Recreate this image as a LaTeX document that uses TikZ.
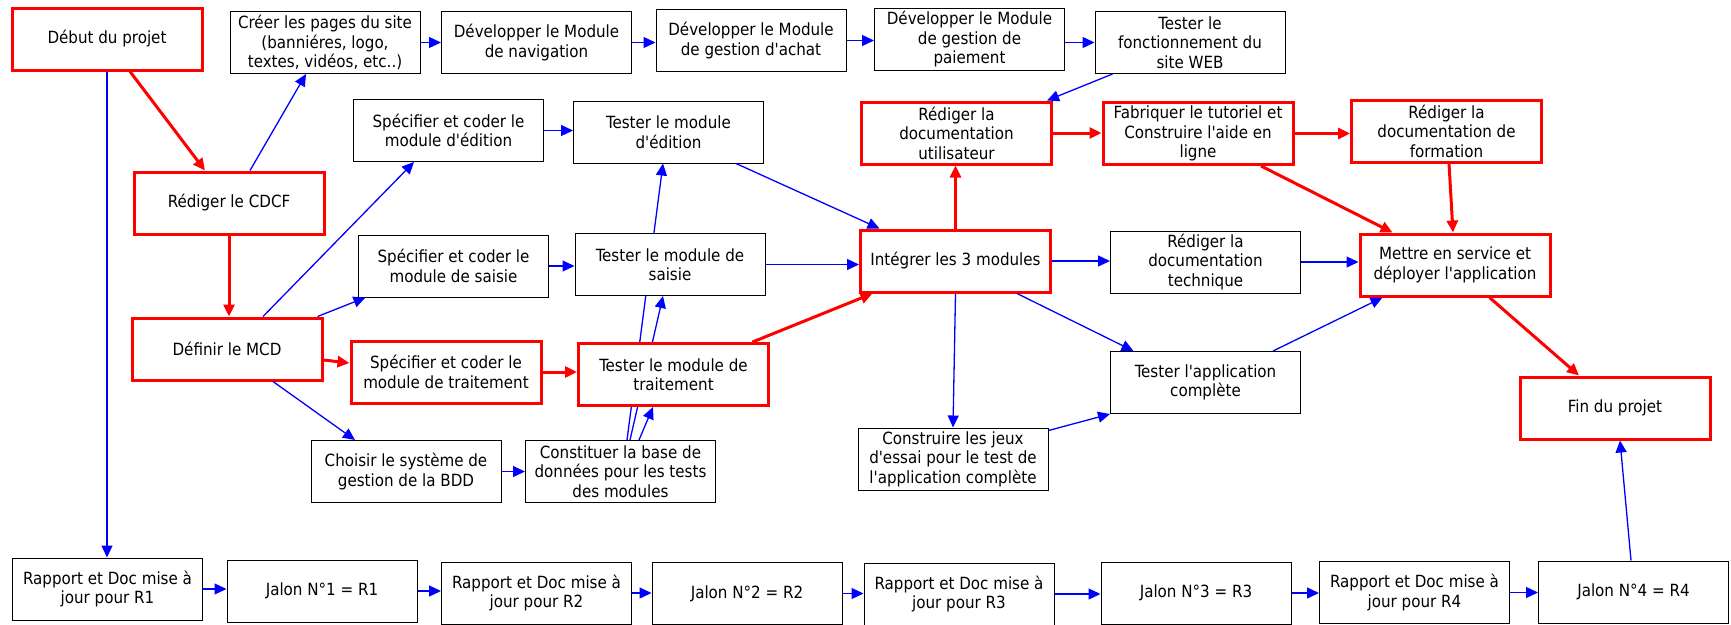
\documentclass[tikz,border=0pt]{standalone}
\usepackage{fontspec}
\newfontfamily\boxfont{DejaVu Sans Condensed}[Ligatures=TeXOff]
\usetikzlibrary{arrows.meta,calc}
\pgfdeclarelayer{behind}
\pgfsetlayers{behind,main}

\tikzset{
  task/.style={draw=black, line width=1pt, fill=white, minimum width=190pt,
    minimum height=62pt, inner sep=2pt, align=center,
    font=\boxfont\fontsize{16.8}{19.5}\selectfont},
  crit/.style={task, draw=red, line width=3pt},
  flow/.style={draw=blue, line width=1.3pt, -{Triangle[length=12pt,width=11pt]}},
  critflow/.style={draw=red, line width=3pt, -{Triangle[length=12pt,width=11pt]}},
}

\begin{document}
\begin{tikzpicture}[x=1pt,y=-1pt]
\useasboundingbox (0,0) rectangle (1731,624);

% ---- tasks ----
\node[crit] (deb)   at (107,39)    {Début du projet};
\node[task] (cree)  at (325,42.5)  {Créer les pages du site\\(banniéres, logo,\\textes, vidéos, etc..)};
\node[task] (nav)   at (536.5,42.5){Développer le Module\\de navigation};
\node[task] (achat) at (751,40.5)  {Développer le Module\\de gestion d'achat};
\node[task] (paie)  at (969.5,39.5){Développer le Module\\de gestion de\\paiement};
\node[task] (tfonc) at (1190,42.5) {Tester le\\fonctionnement du\\site WEB};

\node[task] (sped)  at (448.5,130.5){Spécifier et coder le\\module d'édition};
\node[task] (ted)   at (668.5,132) {Tester le module\\d'édition};
\node[crit] (rdu)   at (956.5,133) {Rédiger la\\documentation\\utilisateur};
\node[crit] (fab)   at (1198,133.5){Fabriquer le tutoriel et\\Construire l'aide en\\ligne};
\node[crit] (rdf)   at (1446.5,131){Rédiger la\\documentation de\\formation};

\node[crit] (cdcf)  at (229,203)   {Rédiger le CDCF};
\node[task] (spsa)  at (453.5,266) {Spécifier et coder le\\module de saisie};
\node[task] (tsa)   at (670,264.5) {Tester le module de\\saisie};
\node[crit] (integ) at (955.5,261) {Intégrer les 3 modules};
\node[task] (rdt)   at (1205.5,262){Rédiger la\\documentation\\technique};
\node[crit] (mes)   at (1455,265)  {Mettre en service et\\déployer l'application};

\node[crit] (mcd)   at (227,349)   {Définir le MCD};
\node[crit] (sptr)  at (446,372)   {Spécifier et coder le\\module de traitement};
\node[crit] (ttr)   at (673.5,374.5){Tester le module de\\traitement};
\node[task] (tapp)  at (1205.5,382.5){Tester l'application\\complète};
\node[crit] (fin)   at (1615,408)  {Fin du projet};

\node[task] (choi)  at (406,471.5) {Choisir le système de\\gestion de la BDD};
\node[task] (const) at (620.5,471.5){Constituer la base de\\données pour les tests\\des modules};
\node[task] (jeux)  at (953,459)   {Construire les jeux\\d'essai pour le test de\\l'application complète};

\node[task] (r1) at (107.5,589) {Rapport et Doc mise à\\jour pour R1};
\node[task] (j1) at (322,591)   {Jalon N°1 = R1};
\node[task] (r2) at (536.5,593) {Rapport et Doc mise à\\jour pour R2};
\node[task] (j2) at (747,593.5) {Jalon N°2 = R2};
\node[task] (r3) at (959,594)   {Rapport et Doc mise à\\jour pour R3};
\node[task] (j3) at (1196,593)  {Jalon N°3 = R3};
\node[task] (r4) at (1414.5,592.5){Rapport et Doc mise à\\jour pour R4};
\node[task] (j4) at (1633.5,592){Jalon N°4 = R4};

% ---- links passing under the test boxes ----
\begin{pgfonlayer}{behind}
\draw[flow] ([xshift=6.5pt]const.north) -- ([xshift=-5.5pt]ted.south);
\draw[flow] ([xshift=9.5pt]const.north) -- ([xshift=-7pt]tsa.south);
\end{pgfonlayer}

% ---- ordinary links ----
\draw[flow] (deb.south) -- (deb.south |- r1.north);
\draw[flow] ([xshift=21pt]cdcf.north) -- ([xshift=-19pt]cree.south);
\draw[flow] (cree.east) -- (cree.east -| nav.west);
\draw[flow] (nav.east) -- (nav.east -| achat.west);
\draw[flow] (achat.east) -- (achat.east -| paie.west);
\draw[flow] (tfonc.west -| paie.east) -- (tfonc.west);
\draw[flow] ([xshift=18pt]tfonc.south west) -- ([xshift=-6pt]rdu.north east);
\draw[flow] ([xshift=36pt]mcd.north) -- ([xshift=-34.5pt]sped.south);
\draw[flow] ([xshift=-6pt]mcd.north east) -- ([xshift=7.5pt]spsa.south west);
\draw[flow] (sped.east) -- (sped.east -| ted.west);
\draw[flow] (spsa.east) -- (spsa.east -| tsa.west);
\draw[flow] ([xshift=67.5pt]ted.south) -- ([xshift=20.5pt]integ.north west);
\draw[flow] (tsa.east) -- (tsa.east -| integ.west);
\draw[flow] ([xshift=46pt]mcd.south) -- ([xshift=-51pt]choi.north);
\draw[flow] (choi.east) -- (choi.east -| const.west);
\draw[flow] ([xshift=18.5pt]const.north) -- ([xshift=-20.5pt]ttr.south);
\draw[flow] (integ.south) -- (jeux.north);
\draw[flow] ([xshift=61.5pt]integ.south) -- ([xshift=23.5pt]tapp.north west);
\draw[flow] ([yshift=-3pt]jeux.north east) -- (tapp.south west);
\draw[flow] (integ.east) -- (integ.east -| rdt.west);
\draw[flow] (rdt.east) -- (rdt.east -| mes.west);
\draw[flow] ([xshift=67.5pt]tapp.north) -- ([xshift=24pt]mes.south west);
\draw[flow] ([xshift=-2.5pt]j4.north) -- ([xshift=5pt]fin.south);

\draw[flow] (r1.east) -- (r1.east -| j1.west);
\draw[flow] (j1.east) -- (j1.east -| r2.west);
\draw[flow] (r2.east) -- (r2.east -| j2.west);
\draw[flow] (j2.east) -- (j2.east -| r3.west);
\draw[flow] (r3.east) -- (r3.east -| j3.west);
\draw[flow] (j3.east) -- (j3.east -| r4.west);
\draw[flow] (r4.east) -- (r4.east -| j4.west);

% ---- critical path ----
\draw[critflow] ([xshift=23pt]deb.south) -- ([xshift=-24pt]cdcf.north);
\draw[critflow] (cdcf.south) -- (cdcf.south |- mcd.north);
\draw[critflow] ([yshift=-11pt]mcd.east) -- ([yshift=9pt]sptr.west);
\draw[critflow] (sptr.east) -- (sptr.east -| ttr.west);
\draw[critflow] ([xshift=-17.5pt]ttr.north east) -- ([xshift=13.5pt]integ.south west);
\draw[critflow] (integ.north) -- (integ.north |- rdu.south);
\draw[critflow] (rdu.east) -- (rdu.east -| fab.west);
\draw[critflow] (fab.east) -- (fab.east -| rdf.west);
\draw[critflow] ([xshift=63pt]fab.south) -- ([xshift=34pt]mes.north west);
\draw[critflow] ([xshift=2.5pt]rdf.south) -- ([xshift=-2pt]mes.north);
\draw[critflow] ([xshift=34.5pt]mes.south) -- ([xshift=-36pt]fin.north);
\end{tikzpicture}
\end{document}
